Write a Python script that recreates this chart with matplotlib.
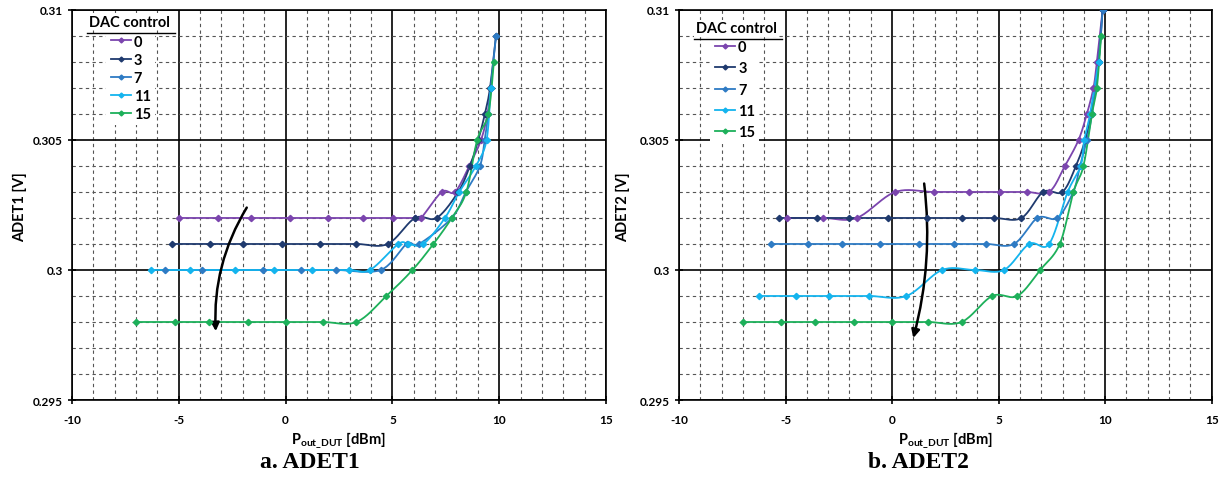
import matplotlib
matplotlib.use('Agg')
import matplotlib.pyplot as plt
import numpy as np
from matplotlib.lines import Line2D

plt.rcParams['font.family'] = ['Lato', 'DejaVu Sans']
plt.rcParams['mathtext.fontset'] = 'custom'
plt.rcParams['mathtext.bf'] = 'Lato:bold'
plt.rcParams['mathtext.rm'] = 'Lato:bold'
plt.rcParams['axes.unicode_minus'] = False

# DAC control settings and colours
dac_labels = ['0', '3', '7', '11', '15']
colors = ['#7B45AE', '#1F3A6E', '#2E7BC4', '#14B4EE', '#1DB05A']

# ADET1 data (Pout_DUT [dBm], ADET1 [V])
adet1_x = [
    [-5.0, -3.18, -1.63, 0.19, 1.97, 3.62, 5.05, 6.06, 6.34, 7.31, 7.93, 8.6, 9.15, 9.45, 9.6],
    [-5.31, -3.54, -1.98, -0.16, 1.61, 3.32, 4.78, 6.06, 7.07, 8.08, 8.63, 9.02, 9.33, 9.57, 9.85],
    [-5.66, -3.93, -1.07, 0.70, 2.38, 4.45, 5.67, 6.25, 7.78, 8.44, 9.1, 9.32, 9.49, 9.6, 9.85],
    [-6.28, -4.48, -2.37, -0.53, 1.24, 2.96, 3.95, 5.28, 5.75, 6.45, 7.46, 8.13, 8.91, 9.41, 9.6],
    [-6.99, -5.16, -3.60, -1.77, 0.03, 1.74, 3.32, 4.72, 5.94, 6.92, 7.78, 8.46, 8.97, 9.49, 9.75],
]
adet1_y = [
    [0.302, 0.302, 0.302, 0.302, 0.302, 0.302, 0.302, 0.302, 0.302, 0.303, 0.303, 0.304, 0.305, 0.306, 0.307],
    [0.301, 0.301, 0.301, 0.301, 0.301, 0.301, 0.301, 0.302, 0.302, 0.303, 0.304, 0.305, 0.306, 0.307, 0.309],
    [0.300, 0.300, 0.300, 0.300, 0.300, 0.300, 0.301, 0.301, 0.302, 0.303, 0.304, 0.305, 0.306, 0.307, 0.309],
    [0.300, 0.300, 0.300, 0.300, 0.300, 0.300, 0.300, 0.301, 0.301, 0.301, 0.302, 0.303, 0.304, 0.305, 0.307],
    [0.298, 0.298, 0.298, 0.298, 0.298, 0.298, 0.298, 0.299, 0.300, 0.301, 0.302, 0.303, 0.305, 0.306, 0.308],
]

# ADET2 data
adet2_x = [
    [-4.95, -3.23, -1.66, 0.15, 1.95, 3.60, 5.06, 6.32, 7.37, 8.11, 8.75, 9.14, 9.45, 9.61, 9.88],
    [-5.30, -3.54, -2.00, -0.17, 1.64, 3.26, 4.78, 6.07, 7.09, 7.99, 8.63, 9.06, 9.34, 9.69, 9.88],
    [-5.69, -3.96, -2.36, -0.56, 1.25, 2.89, 4.42, 5.72, 6.82, 7.75, 8.50, 8.82, 9.14, 9.38, 9.69, 9.88],
    [-6.26, -4.51, -2.96, -1.08, 0.67, 2.35, 3.87, 5.25, 6.43, 7.37, 8.24, 8.85, 9.02, 9.29, 9.69],
    [-7.00, -5.19, -3.62, -1.78, 0.02, 1.69, 3.26, 4.70, 5.88, 6.95, 7.87, 8.51, 8.98, 9.38, 9.61, 9.81],
]
adet2_y = [
    [0.302, 0.302, 0.302, 0.303, 0.303, 0.303, 0.303, 0.303, 0.303, 0.304, 0.305, 0.306, 0.307, 0.308, 0.310],
    [0.302, 0.302, 0.302, 0.302, 0.302, 0.302, 0.302, 0.302, 0.303, 0.303, 0.304, 0.305, 0.306, 0.308, 0.310],
    [0.301, 0.301, 0.301, 0.301, 0.301, 0.301, 0.301, 0.301, 0.302, 0.302, 0.303, 0.304, 0.305, 0.306, 0.308, 0.310],
    [0.299, 0.299, 0.299, 0.299, 0.299, 0.300, 0.300, 0.300, 0.301, 0.301, 0.303, 0.304, 0.305, 0.306, 0.308],
    [0.298, 0.298, 0.298, 0.298, 0.298, 0.298, 0.298, 0.299, 0.299, 0.300, 0.301, 0.303, 0.304, 0.306, 0.307, 0.309],
]

x_ticks = [-10, -5, 0, 5, 10, 15]
y_ticks = [0.295, 0.3, 0.305, 0.31]
y_tick_labels = ['0.295', '0.3', '0.305', '0.31']


def smooth(x, y, n=20):
    # Excel-like smoothed line (cubic Bezier through the points)
    x = np.asarray(x, float)
    y = np.asarray(y, float)
    px = np.r_[x[0], x, x[-1]]
    py = np.r_[y[0], y, y[-1]]
    t = np.linspace(0, 1, n, endpoint=False)[:, None]
    segs = []
    for i in range(1, len(px) - 2):
        p0 = np.array([px[i - 1], py[i - 1]])
        p1 = np.array([px[i], py[i]])
        p2 = np.array([px[i + 1], py[i + 1]])
        p3 = np.array([px[i + 2], py[i + 2]])
        c1 = p1 + (p2 - p0) / 6
        c2 = p2 - (p3 - p1) / 6
        b = ((1 - t) ** 3) * p1 + 3 * ((1 - t) ** 2) * t * c1 + 3 * (1 - t) * t ** 2 * c2 + t ** 3 * p2
        segs.append(b)
    segs.append(np.array([[x[-1], y[-1]]]))
    pts = np.vstack(segs)
    return pts[:, 0], pts[:, 1]


fig = plt.figure(figsize=(12.22, 4.81), dpi=100)
ax1 = fig.add_axes([0.0589, 0.1663, 0.437, 0.811])
ax2 = fig.add_axes([0.5556, 0.1663, 0.436, 0.811])


def style_axes(ax):
    ax.set_xlim(-10, 15)
    ax.set_ylim(0.295, 0.31)
    ax.set_xticks(x_ticks)
    ax.set_yticks(y_ticks)
    ax.set_yticklabels(y_tick_labels)
    ax.set_xticks(np.arange(-10, 16, 1), minor=True)
    ax.set_yticks(np.arange(0.295, 0.3105, 0.001), minor=True)
    ax.grid(which='minor', color='#555555', linestyle=(0, (3, 3)), linewidth=0.8)
    ax.grid(which='major', color='black', linestyle='-', linewidth=1.2)
    ax.tick_params(which='minor', length=0)
    ax.tick_params(which='major', direction='inout', length=6, width=1.2,
                   labelsize=8.5)
    ax.tick_params(axis='x', which='major', pad=7)
    for lbl in ax.get_xticklabels() + ax.get_yticklabels():
        lbl.set_fontweight('bold')
    for sp in ax.spines.values():
        sp.set_color('black')
        sp.set_linewidth(1.2)
    ax.set_axisbelow(True)


def draw(ax, xs, ys):
    for xx, yy, c in zip(xs, ys, colors):
        sx, sy = smooth(xx, yy)
        ax.plot(sx, sy, color=c, linewidth=1.3, zorder=3)
        ax.plot(xx, yy, linestyle='none', marker='D', markersize=3.2, color=c, zorder=4)


for ax, xs, ys in [(ax1, adet1_x, adet1_y), (ax2, adet2_x, adet2_y)]:
    style_axes(ax)
    draw(ax, xs, ys)
    ax.set_xlabel(r'P$_{\mathbf{out\_DUT}}$ [dBm]', fontsize=10.5, fontweight='bold', labelpad=3)

fig.text(0.016, 0.57, 'ADET1 [V]', rotation=90, ha='center', va='center', fontsize=10.5, fontweight='bold')
fig.text(0.510, 0.57, 'ADET2 [V]', rotation=90, ha='center', va='center', fontsize=10.5, fontweight='bold')

# Legends
handles = [Line2D([], [], color=c, marker='D', markersize=2.5, linewidth=1.3) for c in colors]
for ax, tx, ty, lx, ly, spacing in [(ax1, 0.107, 0.970, 0.064, 0.948, 0.28),
                                    (ax2, 0.107, 0.953, 0.059, 0.934, 0.50)]:
    t = ax.text(tx, ty, 'DAC control', transform=ax.transAxes, ha='center', va='center',
                fontsize=10.5, fontweight='bold', zorder=6,
                bbox=dict(facecolor='white', edgecolor='none', pad=1))
    ax.plot([tx - 0.078, tx + 0.086], [ty - 0.028, ty - 0.028], transform=ax.transAxes,
            color='black', linewidth=1.0, zorder=7, clip_on=False)
    leg = ax.legend(handles, dac_labels, loc='upper left', bbox_to_anchor=(lx, ly),
                    frameon=True, fancybox=False, framealpha=1, edgecolor='none',
                    facecolor='white', handlelength=1.4, handletextpad=0.2,
                    labelspacing=spacing, borderpad=0.3, borderaxespad=0,
                    prop={'weight': 'bold', 'size': 10.5})
    leg.set_zorder(6)

# Arrows showing the DAC control trend
ax1.annotate('', xy=(-3.26, 0.29754), xytext=(-1.75, 0.30249),
             arrowprops=dict(arrowstyle='-|>', color='black', lw=1.8,
                             mutation_scale=12, connectionstyle='arc3,rad=0.16'))
ax2.annotate('', xy=(0.96, 0.29728), xytext=(1.49, 0.30343),
             arrowprops=dict(arrowstyle='-|>', color='black', lw=1.8,
                             mutation_scale=12, connectionstyle='arc3,rad=-0.10'))

fig.text(310 / 1222, 1 - 463 / 481, 'a. ADET1', ha='center', va='center',
         fontsize=17, fontweight='bold', family='Liberation Serif')
fig.text(918 / 1222, 1 - 463 / 481, 'b. ADET2', ha='center', va='center',
         fontsize=17, fontweight='bold', family='Liberation Serif')

fig.savefig('out.png', dpi=100)
